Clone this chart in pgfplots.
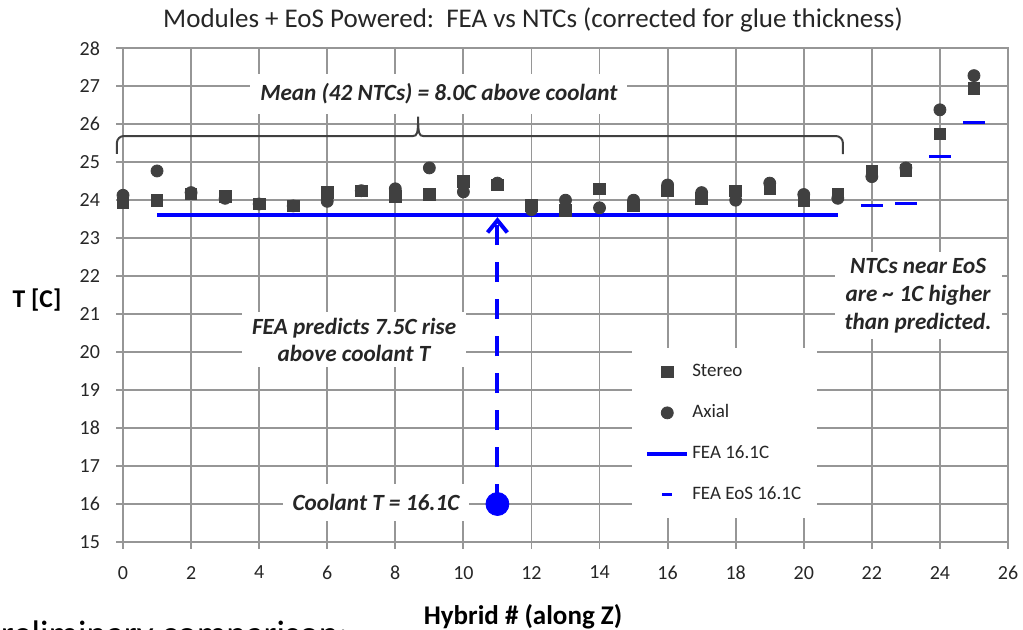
\documentclass[border=0pt]{standalone}
\usepackage{fontspec}
\setmainfont{Carlito}
\usepackage{pgfplots}
\pgfplotsset{compat=1.18}
\definecolor{mk}{RGB}{64,64,64}
\definecolor{gridc}{RGB}{150,150,150}
\definecolor{txt}{RGB}{38,38,38}
\definecolor{fblue}{RGB}{0,0,255}

\pgfplotsset{
  markleg/.style={legend image code/.code={\draw[##1] plot coordinates {(10pt,0pt)};}},
  lineleg/.style={legend image code/.code={\draw[##1] (0pt,0pt) -- (20pt,0pt);}},
  dashleg/.style={legend image code/.code={\draw[fblue, line width=1.5pt] (7.5pt,0pt) -- (12.5pt,0pt);}},
}

\pgfplotstableread{
x y
0 23.93
1 24.00
2 24.17
3 24.10
4 23.90
5 23.85
6 24.20
7 24.25
8 24.10
9 24.15
10 24.50
11 24.40
12 23.87
13 23.73
14 24.30
15 23.85
16 24.25
17 24.05
18 24.25
19 24.30
20 24.00
21 24.15
22 24.76
23 24.78
24 25.75
25 26.95
}\stereo

\pgfplotstableread{
x y
0 24.13
1 24.77
2 24.20
3 24.05
4 23.90
5 23.85
6 23.97
7 24.25
8 24.30
9 24.85
10 24.22
11 24.45
12 23.75
13 24.00
14 23.80
15 24.00
16 24.40
17 24.20
18 24.00
19 24.45
20 24.15
21 24.05
22 24.62
23 24.85
24 26.38
25 27.28
}\axial

\begin{document}
\begin{tikzpicture}
\useasboundingbox (0,0) rectangle (511.5pt,315pt);
\begin{axis}[
  at={(61.5pt,44pt)}, anchor=south west,
  scale only axis, width=442.5pt, height=246.85pt,
  xmin=0, xmax=26, ymin=15, ymax=28,
  xtick={0,2,...,26}, ytick={15,16,...,28},
  grid=major, grid style={gridc, line width=0.9pt},
  axis line style={gridc, line width=0.9pt},
  tick style={gridc, line width=0.9pt},
  tick align=outside, major tick length=3.5pt,
  xtick pos=left, ytick pos=left,
  ticklabel style={font=\fontsize{10}{12}\selectfont, text=txt},
  /pgf/number format/assume math mode=true,
  yticklabel style={xshift=-4.5pt},
  xticklabel style={yshift=-5pt},
  clip=false,
  legend cell align=left,
  legend style={at={(0.575,0.393)}, anchor=north west, draw=none, fill=white,
    inner xsep=6.5pt, inner ysep=7pt, row sep=11pt, column sep=0pt,
    font=\fontsize{9.5}{11}\selectfont,
    nodes={text height=7pt, text depth=2.5pt, inner ysep=0pt, inner xsep=1.5pt, text=txt}},
]
\addplot[only marks, mark=square*, mark size=2.9pt, mk, mark options={fill=mk, draw=mk}, markleg]
  table[x=x,y=y] {\stereo};
\addlegendentry{Stereo}
\addplot[only marks, mark=*, mark size=3pt, mk, mark options={fill=mk, draw=mk}, markleg]
  table[x=x,y=y] {\axial};
\addlegendentry{Axial}
\addplot[fblue, line width=2pt, no marks, lineleg]
  coordinates {(1,23.6) (21,23.6)};
\addlegendentry{FEA 16.1C}
\addplot[only marks, mark=-, mark size=5.4pt, fblue, mark options={line width=1.5pt}, dashleg]
  coordinates {(22,23.86) (23,23.90) (24,25.16) (25,26.04)};
\addlegendentry{FEA EoS 16.1C}
\addplot[only marks, mark=*, mark size=5.75pt, fblue, forget plot]
  coordinates {(11,16)};

% dashed arrow
\draw[fblue, line width=2pt, dash pattern=on 10pt off 8.5pt] (axis cs:11,16) -- (axis cs:11,23.4);
\draw[fblue, line width=2pt] (axis cs:10.71,23.15) -- (axis cs:11,23.47) -- (axis cs:11.29,23.15);

% brace
\draw[mk, line width=1pt, rounded corners=3.5pt]
  (axis cs:-0.18,25.22) -- (axis cs:-0.18,25.69) -- (axis cs:8.52,25.69);
\draw[mk, line width=1pt]
  (axis cs:8.52,25.69) .. controls (axis cs:8.64,25.69) and (axis cs:8.67,25.75) .. (axis cs:8.67,26.2)
  .. controls (axis cs:8.67,25.75) and (axis cs:8.70,25.69) .. (axis cs:8.82,25.69);
\draw[mk, line width=1pt, rounded corners=3.5pt]
  (axis cs:8.82,25.69) -- (axis cs:21.15,25.69) -- (axis cs:21.15,25.21);

% annotations
\node[fill=white, text=txt, inner xsep=5pt, inner ysep=5pt,
  font=\bfseries\itshape\fontsize{11.6}{13}\selectfont] at (axis cs:9.28,26.8)
  {Mean (42 NTCs) = 8.0C above coolant};
\node[fill=white, text=txt, inner xsep=5pt, inner ysep=3pt, align=center,
  font=\bfseries\itshape\fontsize{11.6}{13.5}\selectfont] at (axis cs:6.79,20.33)
  {FEA predicts 7.5C rise\\above coolant T};
\node[fill=white, text=txt, inner xsep=5pt, inner ysep=5pt,
  font=\bfseries\itshape\fontsize{11.6}{13}\selectfont] at (axis cs:7.43,16.04)
  {Coolant T = 16.1C};
\node[fill=white, text=txt, inner xsep=5pt, inner ysep=3pt, align=center,
  font=\bfseries\itshape\fontsize{11.6}{14}\selectfont] at (axis cs:23.36,21.48)
  {NTCs near EoS\\are \textasciitilde{} 1C higher\\than predicted.};
\end{axis}
% title and axis labels
\node[text=txt, anchor=base, inner sep=0pt, font=\fontsize{13.5}{15}\selectfont] at (266.5pt,301.3pt)
  {Modules + EoS Powered:\ \ FEA vs NTCs (corrected for glue thickness)};
\node[text=black, font=\bfseries\fontsize{12.8}{14}\selectfont] at (18.5pt,165pt) {T [C]};
\node[text=black, font=\bfseries\fontsize{13.5}{15}\selectfont] at (261.5pt,6.5pt) {Hybrid \# (along Z)};
\node[text=black, anchor=base west, inner sep=0pt, font=\fontsize{18.5}{20}\selectfont] at (-9.5pt,-8.5pt)
  {preliminary comparison:};
\end{tikzpicture}
\end{document}
